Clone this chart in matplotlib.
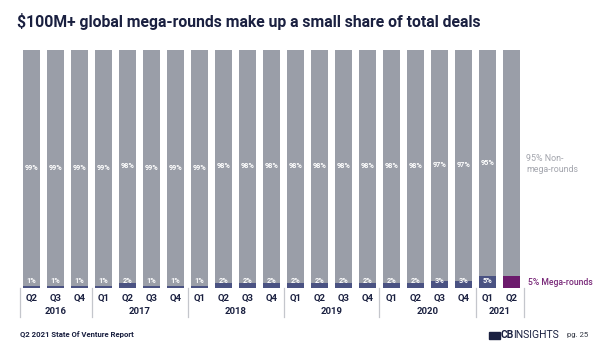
import matplotlib
matplotlib.use("Agg")
import matplotlib.pyplot as plt
from matplotlib.patches import Rectangle

plt.rcParams['font.family'] = ['Roboto', 'DejaVu Sans']

quarters = ["Q2", "Q3", "Q4",
            "Q1", "Q2", "Q3", "Q4",
            "Q1", "Q2", "Q3", "Q4",
            "Q1", "Q2", "Q3", "Q4",
            "Q1", "Q2", "Q3", "Q4",
            "Q1", "Q2"]
years = ["2016", "2017", "2018", "2019", "2020", "2021"]
year_counts = [3, 4, 4, 4, 4, 2]
mega = [1, 1, 1, 1, 2, 1, 1, 1, 2, 2, 2, 2, 2, 2, 2, 2, 2, 3, 3, 5, 5]
non_mega = [99, 99, 99, 99, 98, 99, 99, 99, 98, 98, 98, 98, 98, 98, 98, 98, 98, 97, 97, 95, 95]

GRAY = "#9a9ea8"
NAVY = "#4a5282"
PURPLE = "#6c1a6c"
DARK = "#1a2040"

W, H = 600, 346
fig = plt.figure(figsize=(W / 100, H / 100), dpi=100)
ax = fig.add_axes([19.5 / W, 58 / H, 504 / W, 238.5 / H])

n = len(quarters)
x = list(range(n))
mega_colors = [NAVY] * (n - 1) + [PURPLE]
non_colors = [GRAY] * n
ax.bar(x, mega, width=0.667, color=mega_colors, linewidth=0)
ax.bar(x, non_mega, bottom=mega, width=0.667, color=non_colors, linewidth=0)

for i in range(n - 1):
    ax.text(i, mega[i] + non_mega[i] / 2, f"{non_mega[i]}%", ha="center", va="center",
            color="white", fontsize=5.3, fontweight="bold")
    ax.text(i, 2.9, f"{mega[i]}%", ha="center", va="center",
            color="white", fontsize=5.3, fontweight="bold")

ax.set_xlim(-0.5, n - 0.5)
ax.set_ylim(0, 100)
ax.axis("off")

# quarter labels
for i, q in enumerate(quarters):
    ax.annotate(q, (i, 0), xytext=(0, -10), textcoords="offset pixels",
                ha="center", va="center", fontsize=6.8, fontweight="bold", color=DARK,
                annotation_clip=False)

# year labels and separators
start = 0
seps = [-0.5]
for yr, c in zip(years, year_counts):
    mid = start + (c - 1) / 2
    ax.annotate(yr, (mid, 0), xytext=(0, -24), textcoords="offset pixels",
                ha="center", va="center", fontsize=6.8, fontweight="bold", color=DARK,
                annotation_clip=False)
    start += c
    seps.append(start - 0.5)

for s in seps:
    xp = 19.5 + (s + 0.5) * 24
    fig.add_artist(plt.Line2D([xp / W, xp / W], [(H - 288) / H, (H - 317) / H],
                              color="#c4c6cc", linewidth=0.9))

# right side labels
ax.annotate("95% Non-\nmega-rounds", (n - 0.5, 52), xytext=(3, 0), textcoords="offset pixels",
            ha="left", va="center", fontsize=6.4, color="#a3a5ad", linespacing=1.3,
            annotation_clip=False)
ax.annotate("5% Mega-rounds", (n - 0.5, 2.5), xytext=(4, 0), textcoords="offset pixels",
            ha="left", va="center", fontsize=6.2, color="#7a2a7a", fontweight="medium",
            annotation_clip=False)

# title
fig.text(17 / W, 1 - 22 / H, "$100M+ global mega-rounds make up a small share of total deals",
         ha="left", va="center", fontsize=11.3, fontweight="bold", color=DARK)

# footer
fig.text(20 / W, 1 - 335 / H, "Q2 2021 State Of Venture Report", ha="left", va="center",
         fontsize=5.6, fontweight="bold", color=DARK)
fig.add_artist(Rectangle((489 / W, 1 - 339 / H), 11 / W, 7 / H, color=DARK))
fig.text(501 / W, 1 - 335 / H, "CB", ha="left", va="center", fontsize=7.5,
         fontweight="bold", color=DARK)
fig.text(513 / W, 1 - 335 / H, "INSIGHTS", ha="left", va="center", fontsize=7.5,
         color=DARK)
fig.text(567 / W, 1 - 335 / H, "pg. 25", ha="left", va="center", fontsize=5.6, color="#333844")

fig.savefig("out.png", dpi=100, facecolor="white")
